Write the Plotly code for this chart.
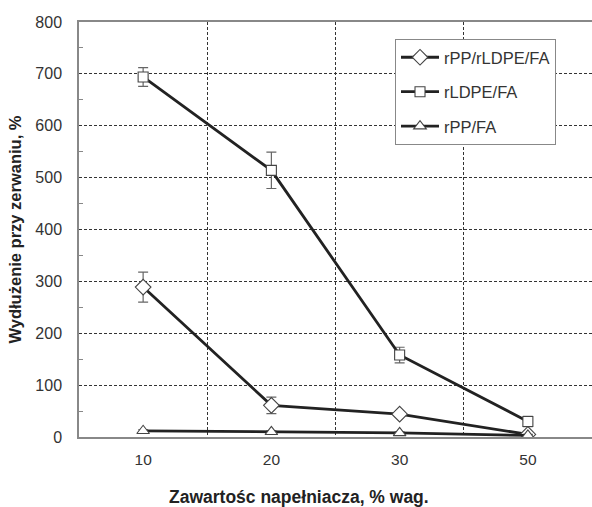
import plotly.graph_objects as go

categories = ["10", "20", "30", "50"]
names = ["rPP/rLDPE/FA", "rLDPE/FA", "rPP/FA"]
blend_vals = [289, 61, 44, 5]
blend_err = [29, 16, 4, 3]
ldpe_vals = [694, 514, 158, 30]
ldpe_err = [18, 35, 15, 10]
pp_vals = [12, 10, 8, 3]
pp_err = [2, 2, 2, 2]
symbols = ["diamond", "square", "triangle-up"]
sizes = [12, 10, 11]

fig = go.Figure()
series = [blend_vals, ldpe_vals, pp_vals]
errs = [blend_err, ldpe_err, pp_err]
for i, (nm, vals, er) in enumerate(zip(names, series, errs)):
    fig.add_trace(go.Scatter(
        x=categories, y=vals, name=nm, mode="lines+markers",
        legendgroup=nm,
        line=dict(color="#222222", width=2.8),
        marker=dict(symbol=symbols[i], size=sizes[i], color="white",
                    line=dict(color="#444444", width=1.1)),
        error_y=dict(type="data", array=er, visible=True, color="#666666",
                     thickness=1.2, width=5),
    ))

fig.update_layout(
    width=592, height=507,
    margin=dict(l=79, r=0, t=22, b=70),
    paper_bgcolor="white", plot_bgcolor="white",
    font=dict(family="Liberation Sans, Arial, sans-serif", size=16, color="#333333"),
    legend=dict(x=0.616, y=0.959, xanchor="left", yanchor="top",
                bordercolor="#888888", borderwidth=1, bgcolor="white",
                itemwidth=38,
                tracegroupgap=10, font=dict(size=16.5, color="#333333")),
    showlegend=True,
)
fig.add_annotation(
    text="<b>Zawartośc napełniacza, % wag.</b>", xref="paper", yref="paper",
    x=(299 - 79) / 513, y=0, yshift=-60, xanchor="center", yanchor="middle",
    showarrow=False, font=dict(size=17.5, color="#222222"),
)
fig.update_xaxes(
    type="category", tickson="boundaries", range=[-0.5, 3.5],
    showgrid=True, gridcolor="#333333", griddash="3px,2px", gridwidth=1,
    showline=True, linecolor="#888888", linewidth=1.5, mirror=True,
    ticks="", zeroline=False, ticklabelstandoff=8,
    tickfont=dict(size=15.5),
)
fig.update_yaxes(
    range=[0, 800], dtick=100,
    showgrid=True, gridcolor="#333333", griddash="3px,2px", gridwidth=1,
    showline=True, linecolor="#888888", linewidth=1.5,
    ticks="", zeroline=False, ticklabelstandoff=12,
    tickfont=dict(size=16),
    minor=dict(ticks="inside", dtick=50, ticklen=4, tickcolor="#888888", showgrid=False),
    title=dict(text="<b>Wydłużenie przy zerwaniu, %</b>", font=dict(size=16.5, color="#222222"), standoff=10),
)
fig.write_html("out.html")
